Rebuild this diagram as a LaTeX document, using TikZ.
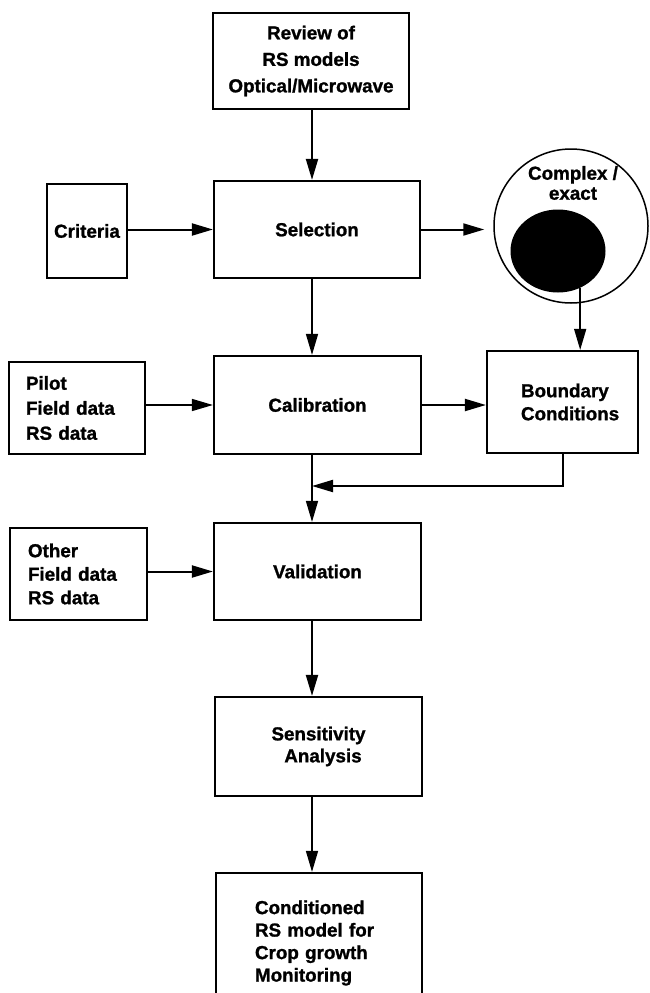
\documentclass[tikz,border=0pt]{standalone}
\usepackage{fontspec}
\setmainfont{Liberation Sans}[BoldFeatures={FakeBold=1.2}]
\usetikzlibrary{arrows.meta,shapes.geometric}
% bold label font with a chosen baseline skip
\newcommand\flowfont[1]{\fontsize{18.8}{#1}\selectfont\bfseries}
\begin{document}
\begin{tikzpicture}[x=1pt,y=-1pt,
  stepbox/.style={draw, line width=2.2pt, inner sep=0pt, align=center,
                  font=\flowfont{22.5}},
  flow/.style={line width=2pt, -{Triangle[length=21pt,width=12pt]}},
  thin flow/.style={flow, line width=1.5pt}]
\useasboundingbox (0,0) rectangle (650,993);

% main column of the flow
\coordinate (col) at (312,0);

\node[stepbox, minimum width=196pt, minimum height=96pt, font=\flowfont{26.5}]
  (rev) at (311,61) {Review of\\RS models\\Optical/Microwave};
\node[stepbox, minimum width=206pt, minimum height=97pt] (sel) at (317,229.5) {Selection};
\node[stepbox, minimum width=207pt, minimum height=98pt] (cal) at (317.5,405) {Calibration};
\node[stepbox, minimum width=207pt, minimum height=97pt] (val) at (317.5,571.5) {Validation};
\node[stepbox, minimum width=207pt, minimum height=99pt, font=\flowfont{22}]
  (sen) at (318.5,746.5) {Sensitivity\\\hspace*{9pt}Analysis};
\node[stepbox, minimum width=206pt, minimum height=140pt, align=left, text width=128pt]
  (res) at (319,943) {Conditioned\\RS model for\\Crop growth\\Monitoring};

% inputs on the left
\node[stepbox, minimum width=80pt, minimum height=94pt] (crit) at (87,231) {Criteria};
\node[stepbox, minimum width=136pt, minimum height=92pt, align=left, text width=102pt,
      font=\flowfont{25}]
  (pil) at (77,408) {Pilot\\Field data\\RS data};
\node[stepbox, minimum width=137pt, minimum height=92pt, align=left, text width=101pt,
      font=\flowfont{23.5}]
  (oth) at (78.5,574) {Other\\Field data\\RS data};

% model complexity and boundary conditions on the right
\node[circle, draw, line width=1.5pt, minimum size=154pt, inner sep=0pt] (outer) at (571,226) {};
\node[ellipse, fill=black, minimum width=95pt, minimum height=83pt, inner sep=0pt] (inner) at (558,251) {};
\node[align=center, font=\flowfont{20}] (cx) at (573,183) {Complex /\\exact};
\node[stepbox, minimum width=151pt, minimum height=102pt, align=left, text width=83pt,
      font=\flowfont{23}]
  (bc) at (562.5,402) {Boundary\\Conditions};

\coordinate (fb) at (312,486);

% connectors
\draw[flow] (col |- rev.south) -- (col |- sel.north);
\draw[flow] (crit.east |- sel) -- (sel.west);
\draw[flow, shorten >=9pt] (sel.east) -- (sel.east -| outer.west);
\draw[thin flow] (col |- sel.south) -- (col |- cal.north);
\draw[thin flow] (inner.-59) -- (inner.-59 |- bc.north);
\draw[thin flow] (pil.east |- cal) -- (cal.west);
\draw[flow] (cal.east) -- (cal.east -| bc.west);
\draw[thin flow] (col |- cal.south) -- (col |- val.north);
\draw[flow] (bc.south) |- (fb);
\draw[flow] (oth.east |- val) -- (val.west);
\draw[flow] (col |- val.south) -- (col |- sen.north);
\draw[thin flow] (col |- sen.south) -- (col |- res.north);
\end{tikzpicture}
\end{document}
